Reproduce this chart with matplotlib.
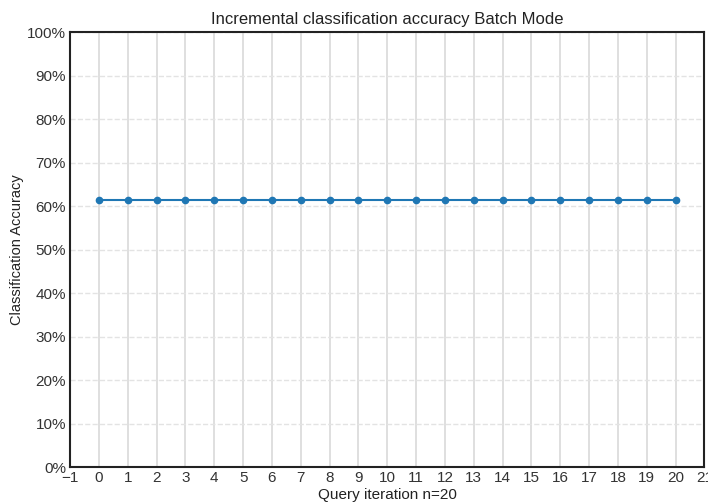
import numpy as np
import matplotlib
matplotlib.use("Agg")
import matplotlib.pyplot as plt
from matplotlib.ticker import PercentFormatter

# data
iterations = list(range(0, 21))
accuracy = [0.615] * 21

plt.rcParams['font.family'] = ['Liberation Sans', 'DejaVu Sans']

fig, ax = plt.subplots(figsize=(7.08, 5.04), dpi=100)
fig.subplots_adjust(left=0.099, right=0.995, top=0.936, bottom=0.073)

ax.plot(iterations, accuracy, color='#1f77b4', marker='o', markersize=4.5, linewidth=1.5)

ax.set_xlim(-1, 21)
ax.set_ylim(0, 1)
ax.set_xticks(range(-1, 22))
ax.set_yticks(np.arange(0, 1.01, 0.1))
ax.yaxis.set_major_formatter(PercentFormatter(1.0, decimals=0))

ax.grid(axis='x', color='#d9d9d9', linestyle='-', linewidth=1.2)
ax.grid(axis='y', color='#e3e3e3', linestyle='--', linewidth=1.0)
ax.set_axisbelow(True)
for s in ax.spines.values():
    s.set_color('#222222')
    s.set_linewidth(1.5)
ax.tick_params(length=0, labelsize=11, colors='#333333', pad=3)

ax.set_title('Incremental classification accuracy Batch Mode', fontsize=12, color='#222222')
ax.set_xlabel('Query iteration n=20', fontsize=11, color='#222222', labelpad=2)
ax.set_ylabel('Classification Accuracy', fontsize=10.5, color='#222222', labelpad=2)

fig.savefig('out.png', dpi=100)
